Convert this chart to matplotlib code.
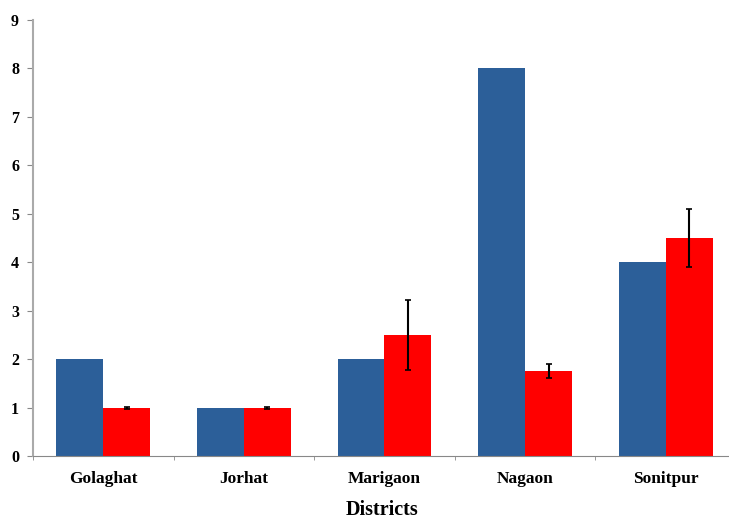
import matplotlib
matplotlib.use("Agg")
import matplotlib.pyplot as plt
import numpy as np

districts = ["Golaghat", "Jorhat", "Marigaon", "Nagaon", "Sonitpur"]
blue_vals = [2, 1, 2, 8, 4]
red_vals = [1, 1, 2.5, 1.75, 4.5]
red_err = [0.02, 0.02, 0.73, 0.15, 0.6]
y_ticks = list(range(0, 10))

plt.rcParams['font.family'] = ['Liberation Serif', 'DejaVu Serif']

fig = plt.figure(figsize=(7.29, 5.19), dpi=100)
W, H = 729, 519
left, right, bottom, top = 33, 736, 456, 20
ax = fig.add_axes([left / W, 1 - bottom / H, (right - left) / W, (bottom - top) / H])

x = np.arange(len(districts))
bw = 1 / 3
ax.bar(x - bw / 2, blue_vals, width=bw, color="#2C5F99", zorder=2)
ax.bar(x + bw / 2, red_vals, width=bw, color="#FF0000", zorder=2)
ax.errorbar(x + bw / 2, red_vals, yerr=red_err, fmt="none", ecolor="black",
            elinewidth=1.5, capsize=2, capthick=1.2, zorder=3)

ax.set_xlim(-0.5, len(districts) - 0.5)
ax.set_ylim(0, 9)
ax.set_yticks(y_ticks)
ax.set_yticklabels([str(t) for t in y_ticks], fontsize=11.5, fontweight="bold")
ax.set_xticks(x)
ax.set_xticklabels(districts, fontsize=12.5, fontweight="bold")
ax.tick_params(axis="x", length=0, pad=11)
ax.set_xticks(np.arange(-0.5, len(districts), 1), minor=True)
ax.tick_params(axis="x", which="minor", length=3, color="#888888")
ax.tick_params(axis="y", length=4, color="#888888", pad=6)

for s in ["top", "right"]:
    ax.spines[s].set_visible(False)
ax.spines["left"].set_color("#AAAAAA")
ax.spines["left"].set_linewidth(1.5)
ax.spines["bottom"].set_color("#888888")

fig.text(382 / W, 1 - 510 / H, "Districts", fontsize=14.5, fontweight="bold",
         ha="center", va="center")

fig.savefig("out.png", dpi=100)
